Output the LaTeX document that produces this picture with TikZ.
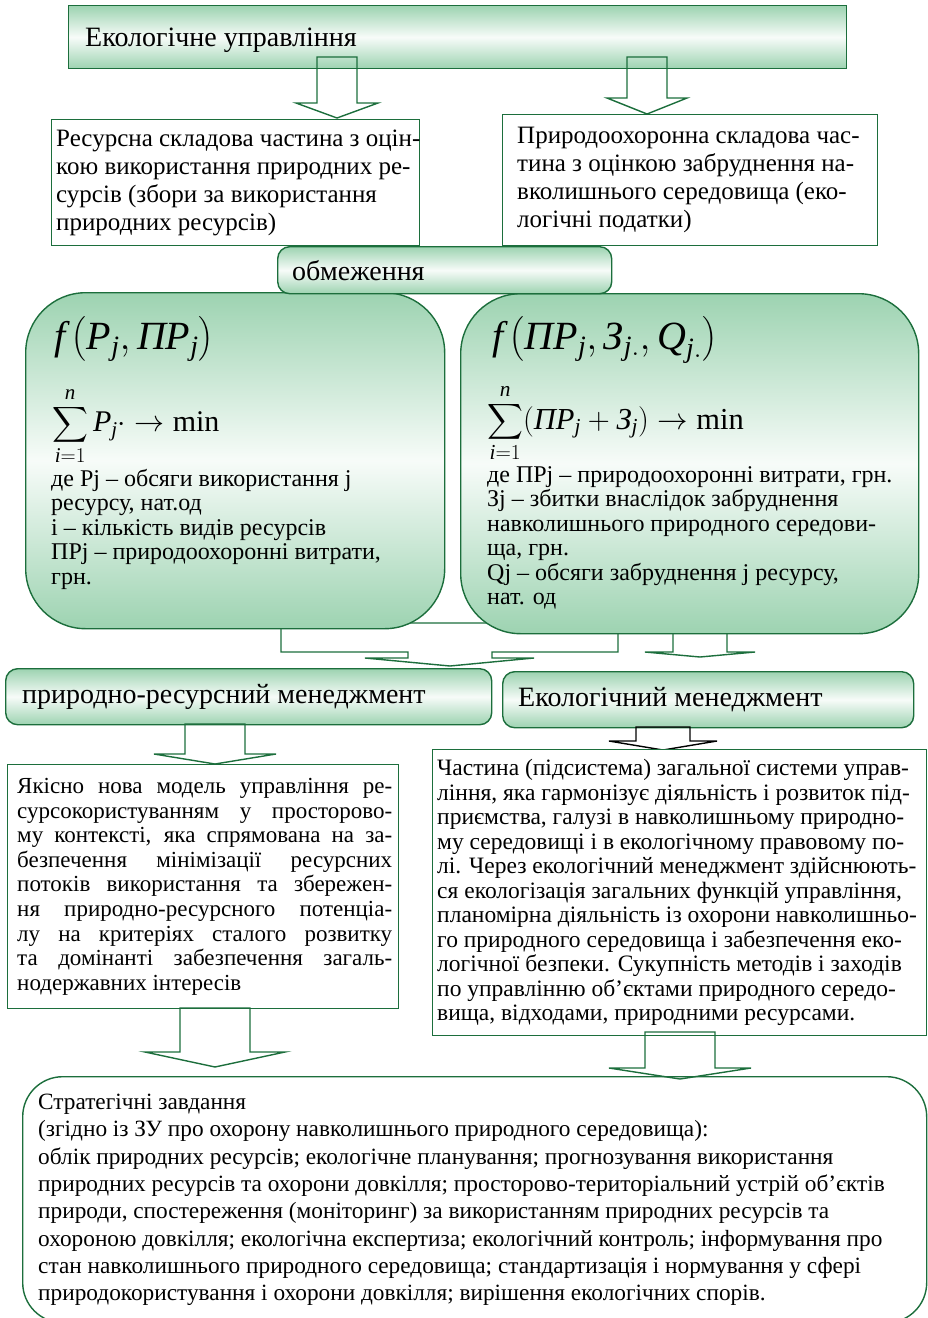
\RequirePackage{fix-cm}
\documentclass[tikz,border=0pt]{standalone}
\usepackage{amsmath}
\usepackage{fontspec}
\setmainfont{Liberation Serif}
\usetikzlibrary{calc,positioning}

\definecolor{gfill}{RGB}{157,211,177}
\definecolor{gline}{RGB}{28,110,60}

\newcommand{\mi}[1]{\textit{#1}}
\newcommand{\jline}[1]{\makebox[375pt][s]{#1}}

% down block arrow: start, tip, half shaft, half head, head length
\newcommand{\blockdown}[6][]{%
  \draw[barrow,#1] let \p1=(#2), \p2=(#3) in
    (\x1-#4pt,\y1) -- (\x1+#4pt,\y1) -- (\x1+#4pt,\y2+#6pt) -- (\x1+#5pt,\y2+#6pt)
    -- (\x1,\y2) -- (\x1-#5pt,\y2+#6pt) -- (\x1-#4pt,\y2+#6pt) -- cycle;}

\begin{document}
\begin{tikzpicture}[x=1pt, y=-1pt,
    gbox/.style={draw=gline, line width=1.4pt, rounded corners=12pt, top color=gfill, bottom color=gfill, middle color=gfill!8, inner sep=0pt, anchor=north west},
    bigbox/.style={gbox, rounded corners=60pt},
    wbox/.style={draw=gline, line width=1.4pt, fill=white, inner sep=0pt, anchor=north west},
    txt/.style={inner sep=0pt, align=left, font=\fontsize{23.5}{24.5}\selectfont},
    ntxt/.style={inner sep=0pt, align=left, font=\fontsize{25}{28}\selectfont},
    htxt/.style={inner sep=0pt, align=left, font=\fontsize{28}{32}\selectfont},
    ftxt/.style={inner sep=0pt, anchor=north west},
    barrow/.style={draw=gline, line width=1.4pt}
]
\useasboundingbox (0,0) rectangle (927,1318);

% Top level
\node[gbox, sharp corners, minimum width=778, minimum height=63] (eco) at (68,5) {};
\node[htxt, right=17pt of eco.west, yshift=-3pt] (eco_txt) {Екологічне управління};

% Components
\node[wbox, minimum width=368, minimum height=126] (res) at (51,119) {};
\node[ntxt, right=5pt of res.west] (res_txt) {Ресурсна складова частина з оцін-\\кою використання природних ре-\\сурсів (збори за використання\\природних ресурсів)};
\node[wbox, minimum width=375, minimum height=131] (env) at (502,114) {};
\node[ntxt, right=15pt of env.west] (env_txt) {Природоохоронна складова час-\\тина з оцінкою забруднення на-\\вколишнього середовища (еко-\\логічні податки)};

\coordinate (a1s) at (337,57); \coordinate (a1t) at (337,118);
\blockdown{a1s}{a1t}{20}{41}{15}
\coordinate (a2s) at (647,57); \coordinate (a2t) at (647,114);
\blockdown{a2s}{a2t}{20}{40}{16}

% Joint arrow under constraints
\draw[barrow, fill=white] (281,623) -- (618,623) -- (618,652) -- (492,652) -- (492,658) -- (534,658)
  -- (450,666) -- (365,658) -- (408,658) -- (408,652) -- (281,652) -- cycle;
\coordinate (a3s) at (700,620); \coordinate (a3t) at (700,657);
\blockdown{a3s}{a3t}{27}{55}{5}

% Constraints
\node[bigbox, minimum width=419, minimum height=336] (lim_l) at (25,292) {};
\node[bigbox, minimum width=458, minimum height=340] (lim_r) at (460,293) {};
\node[gbox, minimum width=334, minimum height=47] (lim) at (277,246) {};
\node[htxt, right=15pt of lim.west] (lim_txt) {обмеження};

\node[ftxt, font=\fontsize{40}{44}\selectfont] (lim_l_f) at (54,315) {$\mi{f}\,\bigl(\mi{P}_{\mi{j}}, \mi{ПP}_{\mi{j}}\bigr)$};
\node[ftxt, font=\fontsize{30}{34}\selectfont] (lim_l_sum) at (52,387) {$\displaystyle\sum_{\mi{i}=1}^{\mi{n}} \mi{P}_{\mi{j}}\cdot \to \text{min}$};
\node[txt, font=\fontsize{24}{24.5}\selectfont, anchor=north west] (lim_l_txt) at (51,469) {де Pj – обсяги використання j\\ресурсу, нат.од\\і – кількість видів ресурсів\\ПРj – природоохоронні витрати,\\грн.};

\node[ftxt, font=\fontsize{40}{44}\selectfont] (lim_r_f) at (492,315) {$\mi{f}\,\bigl(\mi{ПP}_{\mi{j}}, \mi{З}_{\mi{j}.}, \mi{Q}_{\mi{j}.}\bigr)$};
\node[ftxt, font=\fontsize{30.5}{35}\selectfont] (lim_r_sum) at (487,384) {$\displaystyle\sum_{\mi{i}=1}^{\mi{n}} (\mi{ПP}_{\mi{j}} + \mi{З}_{\mi{j}}) \to \text{min}$};
\node[txt, font=\fontsize{24}{24.5}\selectfont, anchor=north west] (lim_r_txt) at (487,466) {де ПРj – природоохоронні витрати, грн.\\Зj – збитки внаслідок забруднення\\навколишнього природного середови-\\ща, грн.\\Qj – обсяги забруднення j ресурсу,\\нат. од};

% Management
\node[gbox, minimum width=486, minimum height=56] (nrm) at (5,668) {};
\node[htxt, right=17pt of nrm.west] (nrm_txt) {природно-ресурсний менеджмент};
\node[gbox, minimum width=411, minimum height=56] (em) at (502,671) {};
\node[htxt, right=16pt of em.west] (em_txt) {Екологічний менеджмент};

\coordinate (a4s) at (215,724); \coordinate (a4t) at (215,764);
\blockdown{a4s}{a4t}{30}{61}{10}
\coordinate (a5s) at (663,727); \coordinate (a5t) at (663,750);
\blockdown[draw=black]{a5s}{a5t}{27}{54}{9}

% Definitions
\node[wbox, minimum width=391, minimum height=244] (model) at (7,764) {};
\node[txt, font=\fontsize{23}{24.6}\selectfont, right=10pt of model.west] (model_txt) {\jline{Якісно нова модель управління ре-}\\
  \jline{сурсокористуванням у просторово-}\\
  \jline{му контексті, яка спрямована на за-}\\
  \jline{безпечення мінімізації ресурсних}\\
  \jline{потоків використання та збережен-}\\
  \jline{ня природно-ресурсного потенціа-}\\
  \jline{лу на критеріях сталого розвитку}\\
  \jline{та домінанті забезпечення загаль-}\\
  нодержавних інтересів};
\node[wbox, minimum width=494, minimum height=286] (part) at (432,749) {};
\node[txt, right=5pt of part.west] (part_txt) {Частина (підсистема) загальної системи управ-\\
  ління, яка гармонізує діяльність і розвиток під-\\
  приємства, галузі в навколишньому природно-\\
  му середовищі і в екологічному правовому по-\\
  лі. Через екологічний менеджмент здійснюють-\\
  ся екологізація загальних функцій управління,\\
  планомірна діяльність із охорони навколишньо-\\
  го природного середовища і забезпечення еко-\\
  логічної безпеки. Сукупність методів і заходів\\
  по управлінню об’єктами природного середо-\\
  вища, відходами, природними ресурсами.};

% Tasks
\node[draw=gline, line width=1.4pt, rounded corners=40pt, inner sep=0pt, anchor=north west, minimum width=904, minimum height=246] (tasks) at (22,1076) {};
\node[txt, font=\fontsize{23.3}{27.3}\selectfont, anchor=north west] (tasks_txt) at (38,1094) {Стратегічні завдання\\
  (згідно із ЗУ про охорону навколишнього природного середовища):\\
  облік природних ресурсів; екологічне планування; прогнозування використання\\
  природних ресурсів та охорони довкілля; просторово-територіальний устрій об’єктів\\
  природи, спостереження (моніторинг) за використанням природних ресурсів та\\
  охороною довкілля; екологічна експертиза; екологічний контроль; інформування про\\
  стан навколишнього природного середовища; стандартизація і нормування у сфері\\
  природокористування і охорони довкілля; вирішення екологічних спорів.};

\coordinate (a6s) at (215,1008); \coordinate (a6t) at (215,1067);
\blockdown{a6s}{a6t}{35}{70}{15}
\coordinate (a7s) at (680,1032); \coordinate (a7t) at (680,1079);
\blockdown{a7s}{a7t}{35}{71}{11}

\end{tikzpicture}
\end{document}
